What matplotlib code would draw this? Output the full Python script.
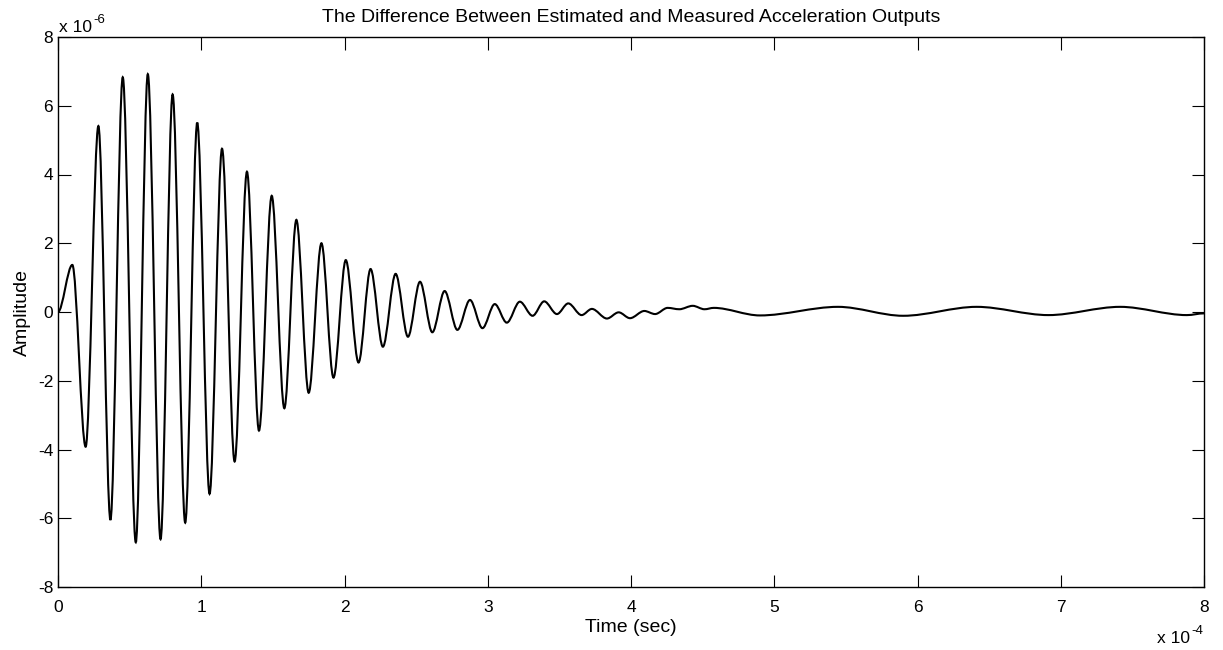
import numpy as np
import matplotlib
matplotlib.use("Agg")
import matplotlib.pyplot as plt
from matplotlib.path import Path
from matplotlib.patches import PathPatch
from matplotlib.ticker import FuncFormatter

plt.rcParams['font.family'] = ['Liberation Sans', 'DejaVu Sans']

# extrema (time in 1e-4 s, amplitude in 1e-6)
t_ext = [0, 0.10, 0.193, 0.282, 0.366, 0.452, 0.543, 0.627, 0.716, 0.80,
         0.888, 0.972, 1.058, 1.145, 1.233, 1.319, 1.403, 1.492, 1.580, 1.664,
         1.750, 1.839, 1.923, 2.009, 2.098, 2.182, 2.268, 2.357, 2.443, 2.527,
         2.613, 2.699, 2.788, 2.876, 2.963, 3.049, 3.133, 3.224, 3.313, 3.394,
         3.483, 3.562, 3.655, 3.727, 3.832, 3.914, 3.993, 4.093, 4.168, 4.256,
         4.337, 4.431, 4.513, 4.578, 4.90, 5.445, 5.900, 6.413, 6.914, 7.415,
         7.881, 8.0]
a_ext = [0, 1.37, -3.92, 5.41, -6.05, 6.83, -6.70, 6.92, -6.61, 6.33,
         -6.13, 5.51, -5.29, 4.75, -4.35, 4.08, -3.45, 3.38, -2.80, 2.68,
         -2.35, 2.00, -1.91, 1.51, -1.47, 1.25, -1.01, 1.11, -0.72, 0.88,
         -0.59, 0.61, -0.52, 0.35, -0.47, 0.23, -0.31, 0.30, -0.11, 0.31,
         -0.06, 0.25, -0.09, 0.09, -0.19, -0.01, -0.18, 0.03, -0.06, 0.12,
         0.08, 0.18, 0.08, 0.12, -0.10, 0.15, -0.11, 0.15, -0.09, 0.15,
         -0.09, -0.04]

x_ticks = [0, 1, 2, 3, 4, 5, 6, 7, 8]
y_ticks = [-8, -6, -4, -2, 0, 2, 4, 6, 8]

t = np.array(t_ext) * 1e-4
a = np.array(a_ext) * 1e-6

fig = plt.figure(figsize=(12.23, 6.5), dpi=100)
ax = fig.add_axes([58 / 1223, 1 - 587 / 650, (1204 - 58) / 1223, (587 - 37) / 650])

# smooth curve through the extrema (flat tangent at each one)
verts = [(t[0], a[0])]
codes = [Path.MOVETO]
for i in range(len(t) - 1):
    dt = (t[i + 1] - t[i]) / 3
    verts += [(t[i] + dt, a[i]), (t[i + 1] - dt, a[i + 1]), (t[i + 1], a[i + 1])]
    codes += [Path.CURVE4] * 3
ax.add_patch(PathPatch(Path(verts, codes), fill=False, edgecolor='black',
                       lw=1.5, transform=ax.transData))

ax.set_xlim(0, 8e-4)
ax.set_ylim(-8e-6, 8e-6)
ax.set_xticks(np.array(x_ticks) * 1e-4)
ax.set_yticks(np.array(y_ticks) * 1e-6)
ax.xaxis.set_major_formatter(FuncFormatter(lambda v, p: '%g' % round(v * 1e4, 6)))
ax.yaxis.set_major_formatter(FuncFormatter(lambda v, p: '%g' % round(v * 1e6, 6)))
ax.tick_params(direction='in', top=True, right=True, length=9, width=0.8,
               labelsize=12.5)
ax.tick_params(axis='x', pad=9)
ax.tick_params(axis='y', pad=3.5)
for s in ax.spines.values():
    s.set_linewidth(1.0)

ax.set_title('The Difference Between Estimated and Measured Acceleration Outputs',
             fontsize=14, pad=11)
ax.set_xlabel('Time (sec)', fontsize=14, labelpad=3)
ax.set_ylabel('Amplitude', fontsize=14, labelpad=5)

# MATLAB style exponent labels
ty = fig.text(59 / 1223, 1 - 32 / 650, 'x 10', fontsize=12.5, va='baseline', ha='left')
ax.annotate('-6', xy=(1, 1), xycoords=ty, xytext=(1, 0), textcoords='offset points',
            fontsize=9.5, va='center', ha='left')
tx = fig.text(1190 / 1223, 1 - 643 / 650, 'x 10', fontsize=12.5, va='baseline', ha='right')
ax.annotate('-4', xy=(1, 1), xycoords=tx, xytext=(1, 0), textcoords='offset points',
            fontsize=9.5, va='center', ha='left')

fig.savefig('out.png', dpi=100)
